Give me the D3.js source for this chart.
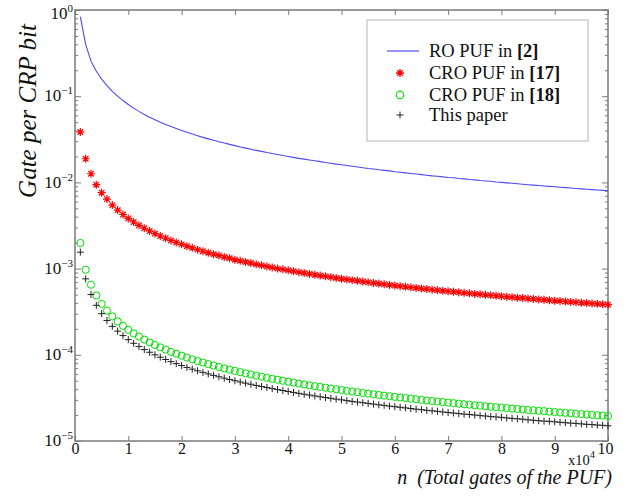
<!DOCTYPE html>
<html><head><meta charset="utf-8">
<script src="https://cdn.jsdelivr.net/npm/d3@7"></script>
<style>
html,body{margin:0;padding:0;background:#fff;}
svg{display:block;font-family:"Liberation Serif","Times New Roman",serif;}
</style></head>
<body><svg id="c" width="627" height="497"></svg>
<script>
// n = k * 1000 gates, k = 1..100
const gateCounts = d3.range(1, 101).map(k => k * 1000);

// RO PUF in [2] (line)
const roPUF = [0.84,0.40,0.255,0.195,0.158,0.133,0.114,0.100,0.089,0.080,
0.0727,0.0667,0.0615,0.0571,0.0533,0.0500,0.0471,0.0444,0.0421,0.0400,
0.0381,0.0364,0.0348,0.0333,0.0320,0.0308,0.0296,0.0286,0.0276,0.0267,
0.0258,0.0250,0.0242,0.0235,0.0229,0.0222,0.0216,0.0211,0.0205,0.0200,
0.0195,0.0190,0.0186,0.0182,0.0178,0.0174,0.0170,0.0167,0.0163,0.0160,
0.0157,0.0154,0.0151,0.0148,0.0145,0.0143,0.0140,0.0138,0.0136,0.0133,
0.0131,0.0129,0.0127,0.0125,0.0123,0.0121,0.0119,0.0118,0.0116,0.0114,
0.0113,0.0111,0.0110,0.0108,0.0107,0.0105,0.0104,0.0103,0.0101,0.0100,
0.00988,0.00976,0.00964,0.00952,0.00941,0.00930,0.00920,0.00909,0.00899,0.00889,
0.00879,0.00870,0.00860,0.00851,0.00842,0.00833,0.00825,0.00816,0.00808,0.00800];

// CRO PUF in [17] (red asterisks)
const croPUF17 = [0.0385,0.0188,0.0126,0.0094,0.0076,0.0064,0.00545,0.00477,0.00424,0.00382,
0.00347,0.00318,0.00294,0.00273,0.00255,0.00239,0.00225,0.00212,0.00201,0.00191,
0.00182,0.00174,0.00166,0.00159,0.00153,0.00147,0.00142,0.00136,0.00132,0.00127,
0.00123,0.00119,0.00116,0.00112,0.00109,0.00106,0.00103,0.00100,0.000980,0.000955,
0.000932,0.000910,0.000888,0.000868,0.000849,0.000830,0.000813,0.000796,0.000780,0.000764,
0.000749,0.000735,0.000721,0.000707,0.000694,0.000682,0.000670,0.000658,0.000647,0.000636,
0.000626,0.000616,0.000606,0.000597,0.000587,0.000579,0.000570,0.000562,0.000553,0.000546,
0.000538,0.000531,0.000523,0.000516,0.000509,0.000503,0.000496,0.000490,0.000484,0.000478,
0.000472,0.000466,0.000460,0.000455,0.000449,0.000444,0.000439,0.000434,0.000429,0.000424,
0.000420,0.000415,0.000411,0.000406,0.000402,0.000398,0.000394,0.000390,0.000386,0.000382];

// CRO PUF in [18] (green circles)
const croPUF18 = [0.00198,0.00097,0.00065,0.000488,0.000390,0.000325,0.000279,0.000244,0.000217,0.000195,
0.000177,0.000163,0.000150,0.000139,0.000130,0.000122,0.000115,0.000108,0.000103,0.0000975,
9.29e-5,8.86e-5,8.48e-5,8.13e-5,7.80e-5,7.50e-5,7.22e-5,6.96e-5,6.72e-5,6.50e-5,
6.29e-5,6.09e-5,5.91e-5,5.74e-5,5.57e-5,5.42e-5,5.27e-5,5.13e-5,5.00e-5,4.88e-5,
4.76e-5,4.64e-5,4.53e-5,4.43e-5,4.33e-5,4.24e-5,4.15e-5,4.06e-5,3.98e-5,3.90e-5,
3.82e-5,3.75e-5,3.68e-5,3.61e-5,3.55e-5,3.48e-5,3.42e-5,3.36e-5,3.31e-5,3.25e-5,
3.20e-5,3.15e-5,3.10e-5,3.05e-5,3.00e-5,2.95e-5,2.91e-5,2.87e-5,2.83e-5,2.79e-5,
2.75e-5,2.71e-5,2.67e-5,2.64e-5,2.60e-5,2.57e-5,2.53e-5,2.50e-5,2.47e-5,2.44e-5,
2.41e-5,2.38e-5,2.35e-5,2.32e-5,2.29e-5,2.27e-5,2.24e-5,2.22e-5,2.19e-5,2.17e-5,
2.14e-5,2.12e-5,2.10e-5,2.07e-5,2.05e-5,2.03e-5,2.01e-5,1.99e-5,1.97e-5,1.95e-5];

// This paper (black plus)
const thisPaper = [0.00155,0.00076,0.000500,0.000375,0.000300,0.000250,0.000214,0.000188,0.000167,0.000150,
0.000136,0.000125,0.000115,0.000107,0.000100,9.38e-5,8.82e-5,8.33e-5,7.89e-5,7.50e-5,
7.14e-5,6.82e-5,6.52e-5,6.25e-5,6.00e-5,5.77e-5,5.56e-5,5.36e-5,5.17e-5,5.00e-5,
4.84e-5,4.69e-5,4.55e-5,4.41e-5,4.29e-5,4.17e-5,4.05e-5,3.95e-5,3.85e-5,3.75e-5,
3.66e-5,3.57e-5,3.49e-5,3.41e-5,3.33e-5,3.26e-5,3.19e-5,3.13e-5,3.06e-5,3.00e-5,
2.94e-5,2.88e-5,2.83e-5,2.78e-5,2.73e-5,2.68e-5,2.63e-5,2.59e-5,2.54e-5,2.50e-5,
2.46e-5,2.42e-5,2.38e-5,2.34e-5,2.31e-5,2.27e-5,2.24e-5,2.21e-5,2.17e-5,2.14e-5,
2.11e-5,2.08e-5,2.05e-5,2.03e-5,2.00e-5,1.97e-5,1.95e-5,1.92e-5,1.90e-5,1.88e-5,
1.85e-5,1.83e-5,1.81e-5,1.79e-5,1.76e-5,1.74e-5,1.72e-5,1.70e-5,1.69e-5,1.67e-5,
1.65e-5,1.63e-5,1.61e-5,1.60e-5,1.58e-5,1.56e-5,1.55e-5,1.53e-5,1.52e-5,1.50e-5];

const xTickLabels = ["0","1","2","3","4","5","6","7","8","9","10"];
const yDecades = [-5,-4,-3,-2,-1,0];
const legendLabels = [["RO PUF in ","[2]"],["CRO PUF in ","[17]"],["CRO PUF in ","[18]"],["This paper",""]];

const svg = d3.select("#c");
const L = 75, R = 608, T = 10, B = 441;
const x = d3.scaleLinear().domain([0, 100000]).range([L, R]);
const y = d3.scaleLog().domain([1e-5, 1]).range([B, T]);
const axisCol = "#7a7a7a";

const majorY = yDecades.map(e => Math.pow(10, e));
const minorY = [];
yDecades.slice(0, -1).forEach(e => { for (let m = 2; m <= 9; m++) minorY.push(m * Math.pow(10, e)); });
const xVals = xTickLabels.map(t => +t * 1e4);

function styleAxis(g) {
  g.select(".domain").remove();
  g.selectAll(".tick line").attr("stroke", axisCol).attr("stroke-width", 1);
}

// bottom axis
svg.append("g").attr("transform", `translate(0,${B})`)
  .call(d3.axisBottom(x).tickValues(xVals).tickSize(-5).tickPadding(2).tickFormat((d, i) => xTickLabels[i]))
  .call(styleAxis)
  .call(g => g.selectAll("text").attr("font-size", 16).attr("fill", "#111").attr("font-family", "Liberation Serif")
    .attr("dx", (d, i) => i === xTickLabels.length - 1 ? -3 : 0));
// top axis
svg.append("g").attr("transform", `translate(0,${T})`)
  .call(d3.axisTop(x).tickValues(xVals).tickSize(-5).tickFormat(""))
  .call(styleAxis);
// left axis major
svg.append("g").attr("transform", `translate(${L},0)`)
  .call(d3.axisLeft(y).tickValues(majorY).tickSize(-6).tickPadding(2).tickFormat(""))
  .call(styleAxis)
  .call(g => g.selectAll(".tick text").each(function(d, i) {
    const t = d3.select(this).attr("font-size", 17).attr("fill", "#111").attr("font-family", "Liberation Serif")
      .attr("dy", yDecades[i] === 0 ? "0.47em" : "0.28em");
    t.append("tspan").text("10");
    t.append("tspan").attr("font-size", 11).attr("dy", -7).text(yDecades[i] === 0 ? "0" : "\u2212" + Math.abs(yDecades[i]));
  }));
// left axis minor
svg.append("g").attr("transform", `translate(${L},0)`)
  .call(d3.axisLeft(y).tickValues(minorY).tickSize(-3).tickFormat(""))
  .call(styleAxis);
// right axis major/minor
svg.append("g").attr("transform", `translate(${R},0)`)
  .call(d3.axisRight(y).tickValues(majorY).tickSize(-6).tickFormat(""))
  .call(styleAxis);
svg.append("g").attr("transform", `translate(${R},0)`)
  .call(d3.axisRight(y).tickValues(minorY).tickSize(-3).tickFormat(""))
  .call(styleAxis);

// frame
svg.append("rect").attr("x", L).attr("y", T).attr("width", R - L).attr("height", B - T)
  .attr("fill", "none").attr("stroke", axisCol).attr("stroke-width", 1.5);

// data
const blueCol = "#4a4af0";
const line = d3.line().x((d, i) => x(gateCounts[i])).y(d => y(d));
svg.append("path").datum(roPUF).attr("d", line).attr("fill", "none").attr("stroke", blueCol).attr("stroke-width", 1.1);

const starPath = "M-4,0H4M0,-4V4M-2.8,-2.8L2.8,2.8M-2.8,2.8L2.8,-2.8";
const plusPath = "M-3.5,0H3.5M0,-3.5V3.5";

svg.append("g").selectAll("path").data(croPUF17).join("path")
  .attr("transform", (d, i) => `translate(${x(gateCounts[i])},${y(d)})`)
  .attr("d", starPath).attr("stroke", "#ff0000").attr("stroke-width", 1.2).attr("fill", "none");

svg.append("g").selectAll("circle").data(croPUF18).join("circle")
  .attr("cx", (d, i) => x(gateCounts[i])).attr("cy", d => y(d)).attr("r", 3.6)
  .attr("fill", "none").attr("stroke", "#00e000").attr("stroke-width", 1);

svg.append("g").selectAll("path").data(thisPaper).join("path")
  .attr("transform", (d, i) => `translate(${x(gateCounts[i])},${y(d)})`)
  .attr("d", plusPath).attr("stroke", "#222").attr("stroke-width", 1).attr("fill", "none");

// legend
const lg = svg.append("g");
lg.append("rect").attr("x", 367).attr("y", 20).attr("width", 221).attr("height", 121)
  .attr("fill", "#fff").attr("stroke", "#b5b5b5").attr("stroke-width", 1);
const rowY = [51, 73, 95, 115];
lg.append("line").attr("x1", 387).attr("x2", 419).attr("y1", rowY[0]).attr("y2", rowY[0]).attr("stroke", "#7070ff").attr("stroke-width", 1.5);
lg.append("path").attr("transform", `translate(400,${rowY[1]})`).attr("d", starPath).attr("stroke", "#ff0000").attr("stroke-width", 1.3).attr("fill", "none");
lg.append("circle").attr("cx", 400).attr("cy", rowY[2]).attr("r", 3.8).attr("fill", "none").attr("stroke", "#00e000").attr("stroke-width", 1.2);
lg.append("path").attr("transform", `translate(400,${rowY[3]})`).attr("d", plusPath).attr("stroke", "#222").attr("stroke-width", 1).attr("fill", "none");
legendLabels.forEach((lab, i) => {
  const t = lg.append("text").attr("x", 429).attr("y", rowY[i] + 6).attr("font-size", 18.5).attr("fill", "#111");
  t.append("tspan").text(lab[0]);
  if (lab[1]) t.append("tspan").attr("font-weight", "bold").text(lab[1]);
});

// x10^4
const xm = svg.append("text").attr("x", 595).attr("y", 465).attr("text-anchor", "end").attr("font-size", 14.5).attr("fill", "#111");
xm.append("tspan").text("x10");
xm.append("tspan").attr("font-size", 10.5).attr("dy", -7).text("4");

// axis titles
svg.append("text").attr("x", 612).attr("y", 484).attr("text-anchor", "end")
  .attr("font-size", 20).attr("font-style", "italic").attr("fill", "#111")
  .style("white-space", "pre")
  .text("n  (Total gates of the PUF)");
svg.append("text").attr("transform", "translate(36,111) rotate(-90)").attr("text-anchor", "middle")
  .attr("font-size", 25).attr("font-style", "italic").attr("fill", "#111")
  .text("Gate per CRP bit");
</script></body></html>
